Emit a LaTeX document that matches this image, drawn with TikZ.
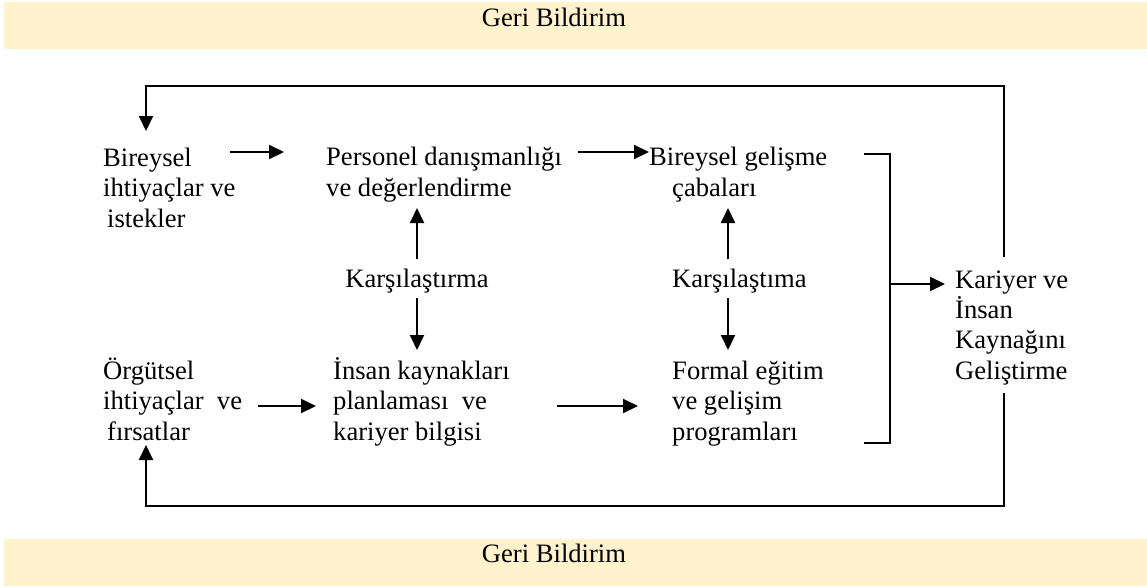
\documentclass[tikz,border=0pt]{standalone}
\usepackage{fontspec}
\setmainfont{Liberation Serif}
\usetikzlibrary{arrows.meta}
\definecolor{band}{HTML}{FFF2CC}
\begin{document}
\begin{tikzpicture}[x=1pt,y=-1pt,
  txt/.style={align=left,anchor=base west,inner sep=0pt,font=\fontsize{26.6}{30.3}\selectfont},
  arr/.style={-{Triangle[length=15pt,width=14pt]},line width=2pt},
  ln/.style={line width=1.8pt}]
\useasboundingbox (0,0) rectangle (1147,587);
\fill[band] (4,2) rectangle (1147,49);
\fill[band] (4,539) rectangle (1147,586);
\node[txt,anchor=base] (gt) at (554,26) {Geri Bildirim};
\node[txt,anchor=base] (gb) at (554,562) {Geri Bildirim};

% base anchor of a multi-line node = baseline of its last line
\node[txt] (b1) at (103,227) {Bireysel\\ihtiyaçlar ve\\\hspace{4pt}istekler};
\node[txt] (pd) at (326,196) {Personel danışmanlığı\\ve değerlendirme};
\node[txt] (bg) at (649,196) {Bireysel gelişme\\\hspace{23pt}çabaları};
\node[txt,anchor=base] (k1) at (417,287) {Karşılaştırma};
\node[txt] (k2) at (672,287) {Karşılaştıma};
\node[txt] (og) at (103,440) {Örgütsel\\ihtiyaçlar\ \ ve\\\hspace{4pt}fırsatlar};
\node[txt] (ik) at (333,440) {İnsan kaynakları\\planlaması\ \ ve\\kariyer bilgisi};
\node[txt] (fe) at (672,440) {Formal eğitim\\ve gelişim\\programları};
\node[txt] (kr) at (955,379) {Kariyer ve\\İnsan\\Kaynağını\\Geliştirme};

% horizontal flows
\draw[arr] (230,152) -- (284,152);
\draw[arr] (578,152) -- (649,152);
\draw[arr] (258,406) -- (316,406);
\draw[arr] (557,406) -- (638,406);
% comparisons
\draw[arr] (417,259) -- (417,208);
\draw[arr] (417,298) -- (417,350);
\draw[arr] (728,259) -- (728,208);
\draw[arr] (728,298) -- (728,350);
% bracket
\draw[ln] (864,154) -- (890,154) -- (890,443) -- (864,443);
\draw[arr] (890,284) -- (945,284);
% feedback loops
\draw[arr] (1004,257) -- (1004,86) -- (146,86) -- (146,131);
\draw[arr] (1004,393) -- (1004,506) -- (146,506) -- (146,445);
\end{tikzpicture}
\end{document}
